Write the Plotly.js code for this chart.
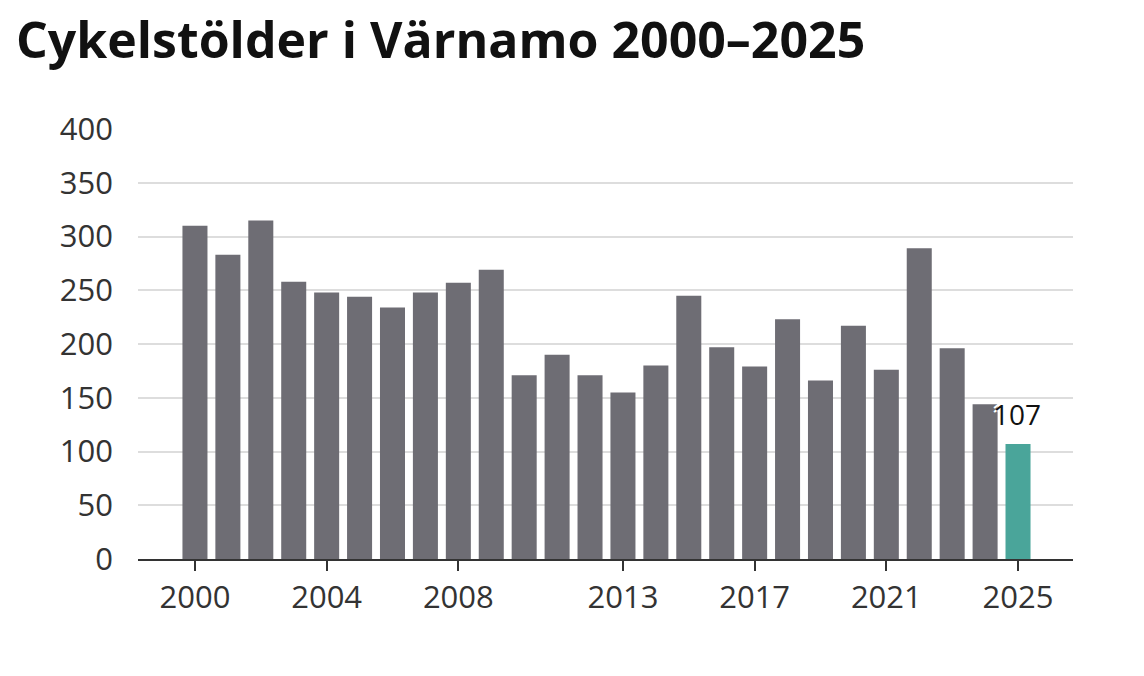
<!DOCTYPE html>
<html>
<head>
<meta charset="utf-8">
<script src="https://cdn.plot.ly/plotly-3.0.1.min.js"></script>
<style>html,body{margin:0;padding:0;background:#fff;}#chart{width:1144px;height:676px;}</style>
</head>
<body>
<div id="chart"></div>
<script>
const years = [2000,2001,2002,2003,2004,2005,2006,2007,2008,2009,2010,2011,2012,2013,2014,2015,2016,2017,2018,2019,2020,2021,2022,2023,2024,2025];
const thefts = [310,283,315,258,248,244,234,248,257,269,171,190,171,155,180,245,197,179,223,166,217,176,289,196,144,107];
const tickYears = [2000,2004,2008,2013,2017,2021,2025];
const yTicks = [0,50,100,150,200,250,300,350,400];
const highlightYear = 2025;
const labelText = "107";

const colors = years.map(y => y === highlightYear ? '#4aa59a' : '#6e6d74');
const hl = years.indexOf(highlightYear);

const trace = {
  type: 'bar',
  x: years,
  y: thefts,
  marker: {color: colors, line: {width: 0}},
  width: 0.76,
  hoverinfo: 'x+y'
};

const layout = {
  width: 1144, height: 676,
  margin: {l: 138, r: 71, t: 129, b: 117},
  paper_bgcolor: '#fff', plot_bgcolor: '#fff',
  font: {family: 'Open Sans, sans-serif', color: '#333'},
  title: {
    text: '<b>Cykelstölder i Värnamo 2000–2025</b>',
    font: {family: 'Open Sans, sans-serif', size: 50, color: '#111'},
    x: 16/1144, xref: 'container', xanchor: 'left',
    y: 1 - 40/676, yref: 'container', yanchor: 'middle'
  },
  xaxis: {
    range: [1998.27, 2026.67],
    tickvals: tickYears,
    ticktext: tickYears.map(String),
    ticks: 'outside', ticklen: 10, tickwidth: 2, tickcolor: '#333',
    tickfont: {size: 31, color: '#333'},
    showgrid: false, zeroline: false,
    showline: true, linecolor: '#333', linewidth: 2,
    fixedrange: true
  },
  yaxis: {
    range: [0, 400],
    tickvals: yTicks,
    ticks: '', ticklabelstandoff: 24,
    tickfont: {size: 31, color: '#333'},
    showgrid: true, gridcolor: '#dddddd', gridwidth: 2,
    zeroline: false, showline: false,
    fixedrange: true
  },
  showlegend: false,
  annotations: [{
    x: years[hl], y: thefts[hl], xref: 'x', yref: 'y',
    text: labelText, showarrow: false,
    xanchor: 'center', yanchor: 'bottom', xshift: -1, yshift: 9,
    font: {size: 28, color: '#111', shadow: '2px 2px 0 #fff, -2px -2px 0 #fff, 2px -2px 0 #fff, -2px 2px 0 #fff'}
  }]
};

Plotly.newPlot('chart', [trace], layout, {displayModeBar: false, staticPlot: true});
</script>
</body>
</html>
